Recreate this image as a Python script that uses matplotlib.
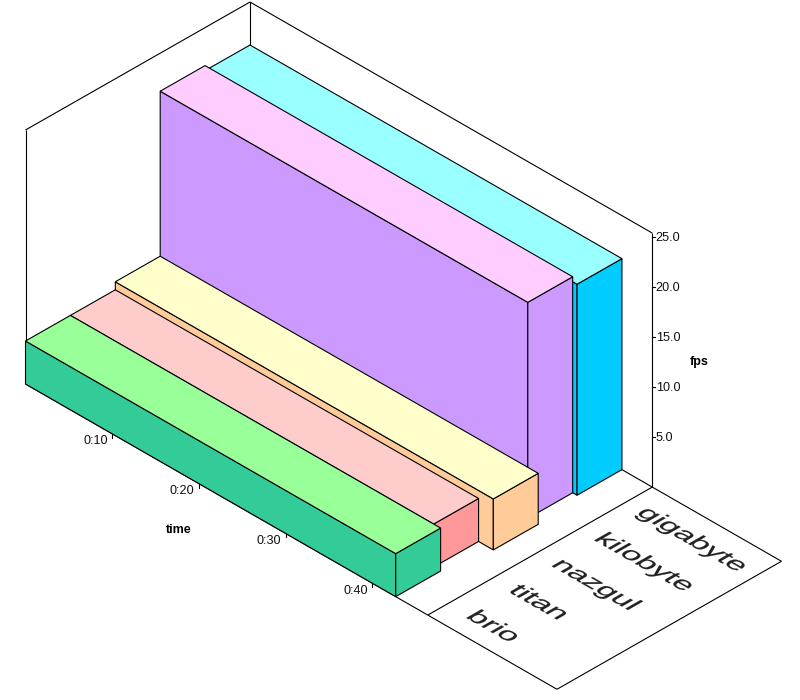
import matplotlib
matplotlib.use("Agg")
import matplotlib.pyplot as plt
import numpy as np
from matplotlib.patheffects import AbstractPathEffect
from matplotlib.transforms import Affine2D

plt.rcParams['font.family'] = ['Liberation Sans', 'DejaVu Sans']

# data
categories = ["brio", "titan", "nazgul", "kilobyte", "gigabyte"]
fps = [4.3, 4.3, 5.1, 21.6, 21.1]
duration = [42.7, 41.9, 43.6, 42.4, 42.9]  # seconds
time_ticks = [10, 20, 30, 40]
time_labels = ["0:10", "0:20", "0:30", "0:40"]
fps_ticks = [5.0, 10.0, 15.0, 20.0, 25.0]

top_colors = ["#99FF99", "#FFCCCC", "#FFFFCC", "#FFCCFF", "#99FFFF"]
front_colors = ["#33CC99", "#FF9999", "#FFCC99", "#CC99FF", "#00CCFF"]
end_colors = ["#33CC99", "#FF9999", "#FFCC99", "#CC99FF", "#00CCFF"]

# the box: time runs down-right, series run up-right, fps runs straight up
ORIGIN = np.array([25.5, 384.0])
PER_SECOND = np.array([8.67, 4.98])
PER_ROW = np.array([44.9, -25.6])
PER_FPS = np.array([0.0, -10.0])
TIME_MAX = 46.4
FPS_MAX = 25.4
LABEL_DEPTH = 14.9


def project(t, row, z=0.0):
    return ORIGIN + t * PER_SECOND + row * PER_ROW + z * PER_FPS


class FloorText(AbstractPathEffect):
    # lays the text flat on the floor of the box
    def __init__(self, along, up, stroke=0.15):
        super().__init__()
        self.basis = np.array([[along[0], up[0]], [along[1], up[1]]])
        self.stroke = stroke

    def draw_path(self, renderer, gc, tpath, affine, rgbFace=None):
        m = affine.get_matrix().copy()
        m[:2, :2] = self.basis @ m[:2, :2]
        gc0 = renderer.new_gc()
        gc0.copy_properties(gc)
        gc0.set_linewidth(self.stroke)
        gc0.set_foreground(rgbFace)
        renderer.draw_path(gc0, tpath, Affine2D(m), rgbFace)
        gc0.restore()


def poly(ax, pts, color, z):
    pts = np.array(pts)
    ax.fill(pts[:, 0], pts[:, 1], facecolor=color, edgecolor="black", linewidth=0.8, zorder=z)


def line(ax, a, b, z=1):
    ax.plot([a[0], b[0]], [a[1], b[1]], color="black", linewidth=0.8, solid_capstyle="butt", zorder=z)


fig = plt.figure(figsize=(8, 7), dpi=100)
ax = fig.add_axes([0, 0, 1, 1])
ax.set_xlim(0, 800)
ax.set_ylim(700, 0)
ax.axis("off")

# walls
line(ax, project(0, 0), project(0, 0, FPS_MAX))
line(ax, project(0, 0, FPS_MAX), project(0, 5, FPS_MAX))
line(ax, project(0, 5, FPS_MAX), project(TIME_MAX, 5, FPS_MAX))
line(ax, project(0, 5), project(0, 5, FPS_MAX))
line(ax, project(TIME_MAX, 5), project(TIME_MAX, 5, FPS_MAX))

# floor and the panel with the series names
line(ax, project(0, 0), project(TIME_MAX, 0))
line(ax, project(TIME_MAX, 0), project(TIME_MAX, 5))
line(ax, project(0, 5), project(TIME_MAX, 5))
line(ax, project(TIME_MAX, 0), project(TIME_MAX + LABEL_DEPTH, 0))
line(ax, project(TIME_MAX + LABEL_DEPTH, 0), project(TIME_MAX + LABEL_DEPTH, 5))
line(ax, project(TIME_MAX, 5), project(TIME_MAX + LABEL_DEPTH, 5))

# bars, back row first
for i in range(len(categories) - 1, -1, -1):
    d, h = duration[i], fps[i]
    z = 10 + (len(categories) - i)
    poly(ax, [project(0, i), project(d, i), project(d, i, h), project(0, i, h)], front_colors[i], z)
    poly(ax, [project(d, i), project(d, i + 1), project(d, i + 1, h), project(d, i, h)], end_colors[i], z)
    poly(ax, [project(0, i, h), project(d, i, h), project(d, i + 1, h), project(0, i + 1, h)], top_colors[i], z)

# time axis
for t, lab in zip(time_ticks, time_labels):
    p = project(t, 0)
    ax.plot([p[0], p[0]], [p[1], p[1] + 4], color="black", linewidth=0.8, zorder=2)
    ax.text(p[0] - 4.5, p[1] + 7.5, lab, ha="right", va="center", fontsize=9.1, color="#111111")

# fps axis
for v in fps_ticks:
    p = project(TIME_MAX, 5, v)
    ax.plot([p[0], p[0] + 3], [p[1], p[1]], color="black", linewidth=0.8, zorder=2)
    ax.text(p[0] + 3.5, p[1] + 0.5, f"{v:.1f}", ha="left", va="center", fontsize=9.1, color="#111111")

ax.text(178.5, 530, "time", ha="center", va="center", fontsize=9, fontweight="bold")
ax.text(699, 362.5, "fps", ha="center", va="center", fontsize=9, fontweight="bold")

# series names on the floor
along = np.array([PER_SECOND[0], -PER_SECOND[1]]) / np.hypot(*PER_SECOND)
up = np.array([PER_ROW[0], -PER_ROW[1]]) / np.hypot(*PER_ROW)
effect = FloorText(along * 1.3, up)
for i, name in enumerate(categories):
    p = project(TIME_MAX + 2.3 - 0.155 * i, 0.98 * i + 0.376)
    ax.text(p[0], p[1], name, ha="left", va="baseline", fontsize=17.3, color="#222222",
            path_effects=[effect], zorder=3)

fig.savefig("out.png", dpi=100)
